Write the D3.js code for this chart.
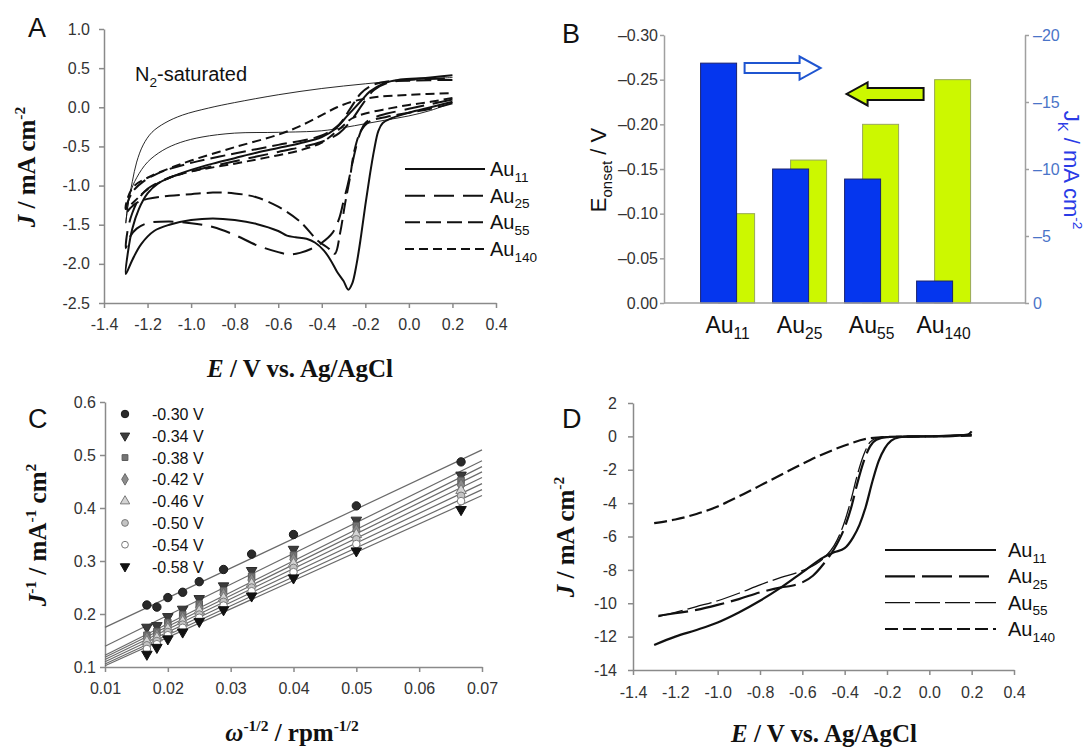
<!DOCTYPE html>
<html>
<head>
<meta charset="utf-8">
<script src="https://cdn.jsdelivr.net/npm/d3@7"></script>
<style>
  body { margin: 0; background: #fff; }
</style>
</head>
<body>
<svg id="fig" width="1088" height="749"></svg>
<script>
// ---------- Panel A: cyclic voltammograms (E / V, J / mA cm^-2), full loops ----------
const cvETicks = [-1.4, -1.2, -1.0, -0.8, -0.6, -0.4, -0.2, 0.0, 0.2, 0.4];
const cvJTicks = [-2.5, -2.0, -1.5, -1.0, -0.5, 0.0, 0.5, 1.0];

const cvN2 = [
  [0.2,0.06],[0.1,-0.04],[0.0,-0.11],[-0.1,-0.16],[-0.2,-0.21],[-0.3,-0.26],[-0.4,-0.3],
  [-0.6,-0.32],[-0.8,-0.33],[-0.95,-0.38],[-1.05,-0.45],[-1.13,-0.55],[-1.2,-0.7],
  [-1.25,-0.9],[-1.28,-1.1],[-1.3,-1.48],
  [-1.29,-1.25],[-1.27,-0.95],[-1.25,-0.7],[-1.22,-0.48],[-1.18,-0.32],[-1.12,-0.2],
  [-1.04,-0.1],[-0.92,-0.01],[-0.8,0.06],[-0.6,0.16],[-0.4,0.24],[-0.2,0.3],[0.0,0.35],[0.2,0.38]
];
const cvAu11 = [
  [0.2,0.07],[0.1,0.0],[0.0,-0.07],[-0.08,-0.14],[-0.12,-0.2],[-0.14,-0.3],[-0.16,-0.55],
  [-0.18,-0.88],[-0.2,-1.25],[-0.22,-1.65],[-0.24,-2.0],[-0.26,-2.25],[-0.278,-2.33],
  [-0.3,-2.22],[-0.33,-2.1],[-0.36,-1.95],[-0.39,-1.83],[-0.43,-1.73],[-0.47,-1.68],
  [-0.52,-1.66],[-0.56,-1.64],[-0.6,-1.58],[-0.7,-1.49],[-0.8,-1.44],[-0.9,-1.42],
  [-1.0,-1.44],[-1.1,-1.5],[-1.17,-1.58],[-1.23,-1.75],[-1.27,-1.95],[-1.3,-2.13],
  [-1.29,-1.85],[-1.27,-1.55],[-1.24,-1.3],[-1.2,-1.1],[-1.15,-0.97],[-1.1,-0.9],
  [-1.0,-0.8],[-0.9,-0.72],[-0.8,-0.65],[-0.7,-0.58],[-0.6,-0.52],[-0.5,-0.46],
  [-0.4,-0.38],[-0.34,-0.28],[-0.28,-0.1],[-0.22,0.08],[-0.18,0.2],[-0.12,0.3],
  [-0.05,0.35],[0.05,0.37],[0.2,0.41]
];
const cvAu25 = [
  [0.2,0.1],[0.1,0.04],[0.0,-0.02],[-0.1,-0.08],[-0.15,-0.12],[-0.2,-0.2],[-0.22,-0.3],
  [-0.24,-0.48],[-0.26,-0.72],[-0.28,-0.98],[-0.3,-1.2],[-0.32,-1.42],[-0.35,-1.6],
  [-0.4,-1.73],[-0.45,-1.81],[-0.5,-1.86],[-0.55,-1.88],[-0.6,-1.85],[-0.7,-1.76],
  [-0.8,-1.63],[-0.9,-1.53],[-1.0,-1.48],[-1.1,-1.46],[-1.2,-1.48],[-1.25,-1.55],
  [-1.28,-1.65],[-1.3,-1.8],
  [-1.29,-1.55],[-1.27,-1.35],[-1.24,-1.17],[-1.2,-1.04],[-1.1,-0.9],[-1.0,-0.82],
  [-0.8,-0.69],[-0.6,-0.57],[-0.4,-0.44],[-0.32,-0.33],[-0.26,-0.15],[-0.21,0.05],
  [-0.16,0.22],[-0.1,0.31],[0.0,0.35],[0.2,0.37]
];
const cvAu55 = [
  [0.2,0.05],[0.1,-0.02],[0.0,-0.07],[-0.1,-0.12],[-0.18,-0.18],[-0.22,-0.3],[-0.25,-0.55],
  [-0.27,-0.89],[-0.293,-1.23],[-0.316,-1.61],[-0.34,-1.87],[-0.37,-1.8],[-0.42,-1.7],
  [-0.5,-1.46],[-0.6,-1.27],[-0.7,-1.15],[-0.8,-1.1],[-0.9,-1.09],[-1.0,-1.11],
  [-1.1,-1.13],[-1.2,-1.17],[-1.25,-1.22],[-1.28,-1.29],[-1.3,-1.35],
  [-1.29,-1.2],[-1.26,-1.05],[-1.22,-0.95],[-1.15,-0.84],[-1.0,-0.71],[-0.8,-0.59],
  [-0.6,-0.48],[-0.4,-0.36],[-0.32,-0.22],[-0.27,-0.02],[-0.22,0.18],[-0.17,0.28],
  [-0.1,0.33],[0.0,0.34],[0.2,0.35]
];
const cvAu140 = [
  [0.2,0.12],[0.1,0.07],[0.0,0.03],[-0.1,-0.02],[-0.2,-0.08],[-0.26,-0.14],[-0.32,-0.28],
  [-0.4,-0.45],[-0.5,-0.55],[-0.65,-0.64],[-0.8,-0.72],[-1.0,-0.82],[-1.1,-0.9],
  [-1.2,-1.05],[-1.26,-1.2],[-1.3,-1.3],
  [-1.29,-1.15],[-1.26,-1.0],[-1.2,-0.9],[-1.1,-0.78],[-1.0,-0.68],[-0.8,-0.51],
  [-0.6,-0.35],[-0.5,-0.24],[-0.4,-0.1],[-0.33,0.0],[-0.25,0.08],[-0.15,0.13],
  [0.0,0.16],[0.2,0.18]
];

// ---------- Panel B: onset potential and kinetic current density ----------
const clusters = ["11", "25", "55", "140"];
const onsetE = [-0.10, -0.16, -0.20, -0.25];
const kineticJ = [-17.9, -10.0, -9.25, -1.64];
const onsetTicks = [0, -0.05, -0.10, -0.15, -0.20, -0.25, -0.30];
const jkTicks = [0, -5, -10, -15, -20];

// ---------- Panel C: Koutecky-Levich data ----------
const rotationRpm = [3600, 3000, 2500, 2000, 1600, 1200, 900, 625, 400, 225];
const klPotentials = ["-0.30 V", "-0.34 V", "-0.38 V", "-0.42 V", "-0.46 V", "-0.50 V", "-0.54 V", "-0.58 V"];
const klInvJ = [
  [0.217, 0.213, 0.231, 0.241, 0.261, 0.284, 0.313, 0.350, 0.404, 0.487],
  [0.175, 0.178, 0.195, 0.209, 0.229, 0.253, 0.282, 0.322, 0.377, 0.462],
  [0.160, 0.167, 0.184, 0.199, 0.219, 0.244, 0.271, 0.311, 0.367, 0.452],
  [0.154, 0.160, 0.178, 0.192, 0.212, 0.237, 0.264, 0.303, 0.358, 0.443],
  [0.148, 0.155, 0.172, 0.186, 0.206, 0.230, 0.257, 0.295, 0.350, 0.433],
  [0.141, 0.149, 0.166, 0.180, 0.199, 0.223, 0.250, 0.287, 0.341, 0.423],
  [0.134, 0.143, 0.160, 0.174, 0.193, 0.216, 0.243, 0.279, 0.332, 0.413],
  [0.124, 0.137, 0.153, 0.166, 0.186, 0.208, 0.234, 0.268, 0.319, 0.397]
];
const klSlope = [5.58, 5.83, 5.93, 5.83, 5.72, 5.60, 5.48, 5.35];
const klIntercept = [0.119, 0.081, 0.063, 0.060, 0.057, 0.054, 0.051, 0.049];
const klXTicks = [0.01, 0.02, 0.03, 0.04, 0.05, 0.06, 0.07];
const klYTicks = [0.1, 0.2, 0.3, 0.4, 0.5, 0.6];

// ---------- Panel D: linear sweep voltammograms ----------
const lsvETicks = [-1.4, -1.2, -1.0, -0.8, -0.6, -0.4, -0.2, 0.0, 0.2, 0.4];
const lsvJTicks = [-14, -12, -10, -8, -6, -4, -2, 0, 2];
const lsvAu11 = [
  [-1.3,-12.5],[-1.2,-12.0],[-1.1,-11.6],[-1.0,-11.15],[-0.9,-10.55],[-0.8,-9.85],
  [-0.7,-9.05],[-0.6,-8.15],[-0.5,-7.25],[-0.45,-6.95],[-0.4,-6.7],[-0.36,-6.05],
  [-0.33,-5.3],[-0.3,-4.2],[-0.27,-2.75],[-0.24,-1.5],[-0.21,-0.7],[-0.18,-0.25],
  [-0.14,-0.05],[-0.1,0.0],[0.0,0.0],[0.1,0.02],[0.18,0.1],[0.2,0.3]
];
const lsvAu25 = [
  [-1.28,-10.75],[-1.2,-10.6],[-1.1,-10.4],[-1.0,-10.1],[-0.9,-9.75],[-0.8,-9.35],
  [-0.7,-9.05],[-0.65,-8.95],[-0.6,-8.75],[-0.55,-8.35],[-0.5,-7.65],[-0.45,-6.75],
  [-0.4,-5.45],[-0.37,-4.3],[-0.34,-2.8],[-0.31,-1.5],[-0.28,-0.6],[-0.25,-0.2],
  [-0.2,-0.05],[0.0,0.0],[0.2,0.1]
];
const lsvAu55 = [
  [-1.28,-10.8],[-1.2,-10.55],[-1.1,-10.2],[-1.0,-9.85],[-0.9,-9.4],[-0.8,-8.9],
  [-0.7,-8.45],[-0.6,-8.05],[-0.5,-7.3],[-0.45,-6.55],[-0.4,-5.1],[-0.37,-3.8],
  [-0.34,-2.3],[-0.31,-1.1],[-0.28,-0.35],[-0.25,-0.1],[-0.2,-0.02],[0.0,0.0],[0.2,0.1]
];
const lsvAu140 = [
  [-1.3,-5.2],[-1.2,-4.98],[-1.1,-4.65],[-1.0,-4.2],[-0.9,-3.6],[-0.8,-2.95],
  [-0.7,-2.3],[-0.6,-1.65],[-0.5,-1.05],[-0.4,-0.55],[-0.3,-0.15],[-0.2,-0.03],
  [0.0,0.0],[0.2,0.05]
];

// ---------- shared drawing helpers ----------
const SANS = "'Liberation Sans', Arial, Helvetica, sans-serif";
const SERIF = "'Liberation Serif', 'Times New Roman', serif";
const AXIS_GREY = "#8a8a8a";
const TEXT_DARK = "#333";

const svg = d3.select("#fig");
svg.append("rect").attr("width", 1088).attr("height", 749).attr("fill", "#fff");

// append tspans with optional sub/superscript and italics
function rich(textSel, parts, size) {
  let shift = 0;
  parts.forEach(p => {
    const ts = textSel.append("tspan").text(p.t);
    let target = 0, fs = size;
    if (p.sup) { target = -0.42 * size; fs = size * 0.62; }
    if (p.sub) { target = 0.28 * size; fs = size * 0.68; }
    ts.attr("dy", target - shift).attr("font-size", fs);
    if (p.it) ts.attr("font-style", "italic");
    shift = target;
  });
  return textSel;
}

function styleAxis(g, color, textColor, fontSize) {
  g.attr("font-family", SANS).attr("font-size", fontSize);
  g.select(".domain").attr("stroke", color).attr("stroke-width", 1.5);
  g.selectAll(".tick line").attr("stroke", color).attr("stroke-width", 1.5);
  g.selectAll(".tick text").attr("fill", textColor);
}

function panelLetter(x, y, s) {
  svg.append("text").attr("x", x).attr("y", y).attr("font-family", SANS)
    .attr("font-size", 27).attr("fill", "#111").text(s);
}

function serifTitle(x, y, rot, parts) {
  const t = svg.append("text")
    .attr("transform", `translate(${x},${y}) rotate(${rot})`)
    .attr("text-anchor", "middle").attr("font-family", SERIF)
    .attr("font-weight", "bold").attr("font-size", 25).attr("fill", "#111");
  rich(t, parts, 25);
  return t;
}

const fmt1 = d => d.toFixed(1);

// ===================== Panel A =====================
{
  const x = d3.scaleLinear().domain([-1.4, 0.4]).range([104, 496]);
  const y = d3.scaleLinear().domain([-2.5, 1.0]).range([303, 29]);

  const gx = svg.append("g").attr("transform", "translate(0,303)")
    .call(d3.axisBottom(x).tickValues(cvETicks).tickFormat(fmt1)
      .tickSize(5).tickSizeOuter(0).tickPadding(11));
  styleAxis(gx, AXIS_GREY, TEXT_DARK, 16);
  const gy = svg.append("g").attr("transform", "translate(104,0)")
    .call(d3.axisLeft(y).tickValues(cvJTicks).tickFormat(fmt1)
      .tickSize(5).tickSizeOuter(0).tickPadding(9));
  styleAxis(gy, AXIS_GREY, TEXT_DARK, 16);

  const line = d3.line().x(d => x(d[0])).y(d => y(d[1]))
    .curve(d3.curveCatmullRom.alpha(0.5));

  svg.append("path").attr("d", line(cvN2)).attr("fill", "none")
    .attr("stroke", "#111").attr("stroke-width", 0.9);

  const series = [
    { name: "11", data: cvAu11, dash: null },
    { name: "25", data: cvAu25, dash: "20,9" },
    { name: "55", data: cvAu55, dash: "15,6" },
    { name: "140", data: cvAu140, dash: "9,5" }
  ];
  series.forEach(s => {
    svg.append("path").attr("d", line(s.data)).attr("fill", "none")
      .attr("stroke", "#111").attr("stroke-width", 2)
      .attr("stroke-dasharray", s.dash);
  });

  // legend
  const legY = d3.scalePoint().domain(series.map(s => s.name)).range([169, 249]);
  series.forEach(s => {
    const yy = legY(s.name);
    svg.append("line").attr("x1", 405).attr("x2", 485).attr("y1", yy).attr("y2", yy)
      .attr("stroke", "#111").attr("stroke-width", 2).attr("stroke-dasharray", s.dash);
    const t = svg.append("text").attr("x", 490).attr("y", yy + 7)
      .attr("font-family", SANS).attr("font-size", 20).attr("fill", "#111");
    rich(t, [{ t: "Au" }, { t: s.name, sub: true }], 20);
  });

  const n2 = svg.append("text").attr("x", 135).attr("y", 81)
    .attr("font-family", SANS).attr("font-size", 20).attr("fill", "#111");
  rich(n2, [{ t: "N" }, { t: "2", sub: true }, { t: "-saturated" }], 20);

  panelLetter(28, 37, "A");
  serifTitle(35, 167, -90, [{ t: "J", it: true }, { t: " / mA cm" }, { t: "-2", sup: true }]);
  serifTitle(300, 377, 0, [{ t: "E", it: true }, { t: " / V vs. Ag/AgCl" }]);
}

// ===================== Panel B =====================
{
  const x = d3.scaleBand().domain(clusters).range([664, 1025])
    .paddingInner(0).paddingOuter(0.507).align(0.378);
  const yL = d3.scaleLinear().domain([0, -0.30]).range([303, 35]);
  const yR = d3.scaleLinear().domain([0, -20]).range([303, 35]);
  const barW = x.bandwidth() / 2;

  // green: onset potential (behind), blue: kinetic current (front)
  svg.append("g").selectAll("rect").data(clusters).join("rect")
    .attr("x", (d) => x(d) + x.bandwidth() * 0.375)
    .attr("y", (d, i) => yL(onsetE[i]))
    .attr("width", barW)
    .attr("height", (d, i) => yL(0) - yL(onsetE[i]))
    .attr("fill", "#ccf800").attr("stroke", "#98a85a").attr("stroke-width", 1);
  svg.append("g").selectAll("rect").data(clusters).join("rect")
    .attr("x", (d) => x(d) + x.bandwidth() * 0.125)
    .attr("y", (d, i) => yR(kineticJ[i]))
    .attr("width", barW)
    .attr("height", (d, i) => yR(0) - yR(kineticJ[i]))
    .attr("fill", "#0536ee").attr("stroke", "#1a2270").attr("stroke-width", 1);

  const gl = svg.append("g").attr("transform", "translate(664,0)")
    .call(d3.axisLeft(yL).tickValues(onsetTicks)
      .tickFormat(d => d === 0 ? "0.00" : "\u2013" + Math.abs(d).toFixed(2))
      .tickSize(4).tickSizeOuter(0).tickPadding(2));
  styleAxis(gl, "#a0a0a0", TEXT_DARK, 16);
  const gr = svg.append("g").attr("transform", "translate(1025,0)")
    .call(d3.axisRight(yR).tickValues(jkTicks)
      .tickFormat(d => d === 0 ? "0" : "\u2013" + Math.abs(d))
      .tickSize(4).tickSizeOuter(0).tickPadding(4));
  styleAxis(gr, "#a0a0a0", "#4a74c8", 16);
  svg.append("line").attr("x1", 664).attr("x2", 1025).attr("y1", 303).attr("y2", 303)
    .attr("stroke", "#a0a0a0").attr("stroke-width", 1.5);

  clusters.forEach(c => {
    const t = svg.append("text").attr("x", x(c) + x.bandwidth() * 0.5).attr("y", 333)
      .attr("text-anchor", "middle").attr("font-family", SANS)
      .attr("font-size", 23).attr("fill", "#111");
    rich(t, [{ t: "Au" }, { t: c, sub: true }], 23);
  });

  // direction arrows: white → points to the right axis, green ← to the left axis
  const cx = c => x(c) + x.bandwidth() * 0.5;
  function arrow(x0, xh, x1, yc, shaftH, headH, fill, stroke) {
    const pts = [[x0, yc - shaftH], [xh, yc - shaftH], [xh, yc - headH], [x1, yc],
      [xh, yc + headH], [xh, yc + shaftH], [x0, yc + shaftH]];
    svg.append("polygon").attr("points", pts.map(p => p.join(",")).join(" "))
      .attr("fill", fill).attr("stroke", stroke).attr("stroke-width", 2)
      .attr("stroke-linejoin", "miter");
  }
  arrow(cx("11") + 17, cx("25") + 0, cx("25") + 21, yL(-0.263), 5, 11.5, "#fff", "#1f55d0");
  arrow(cx("140") - 20, cx("55") - 4, cx("55") - 25, yL(-0.234), 6, 11.5, "#ccf800", "#111");

  panelLetter(562, 43, "B");
  const tl = svg.append("text").attr("transform", "translate(606,170) rotate(-90)")
    .attr("text-anchor", "middle").attr("font-family", SANS)
    .attr("font-size", 22).attr("fill", "#111");
  rich(tl, [{ t: "E" }, { t: "onset", sub: true }, { t: " / V" }], 22);
  const tr = svg.append("text").attr("transform", "translate(1064,170) rotate(90)")
    .attr("text-anchor", "middle").attr("font-family", SANS)
    .attr("font-size", 22).attr("fill", "#2a3be6");
  rich(tr, [{ t: "J" }, { t: "K", sub: true }, { t: " / mA cm" }, { t: "-2", sup: true }], 22);
}

// ===================== Panel C =====================
{
  const x = d3.scaleLinear().domain([0.01, 0.07]).range([105, 482]);
  const y = d3.scaleLinear().domain([0.1, 0.6]).range([667, 402]);

  const gx = svg.append("g").attr("transform", "translate(0,667)")
    .call(d3.axisBottom(x).tickValues(klXTicks).tickFormat(d => d.toFixed(2))
      .tickSize(5).tickSizeOuter(0).tickPadding(11));
  styleAxis(gx, AXIS_GREY, TEXT_DARK, 16);
  const gy = svg.append("g").attr("transform", "translate(105,0)")
    .call(d3.axisLeft(y).tickValues(klYTicks).tickFormat(fmt1)
      .tickSize(5).tickSizeOuter(0).tickPadding(4));
  styleAxis(gy, AXIS_GREY, TEXT_DARK, 16);

  const omega = rotationRpm.map(r => 1 / Math.sqrt(r));

  // linear fits
  klPotentials.forEach((p, i) => {
    const f = v => klIntercept[i] + klSlope[i] * v;
    svg.append("line")
      .attr("x1", x(0.01)).attr("y1", y(f(0.01)))
      .attr("x2", x(0.07)).attr("y2", y(f(0.07)))
      .attr("stroke", "#6a6a6a").attr("stroke-width", 1.2);
  });

  const markers = [
    { type: d3.symbolCircle, rot: 0, fill: "#2a2a2a", stroke: "#1a1a1a", size: 55 },
    { type: d3.symbolTriangle, rot: 180, fill: "#3c3c3c", stroke: "#2a2a2a", size: 48 },
    { type: d3.symbolSquare, rot: 0, fill: "#747474", stroke: "#5a5a5a", size: 42 },
    { type: d3.symbolDiamond, rot: 0, fill: "#8c8c8c", stroke: "#6a6a6a", size: 48 },
    { type: d3.symbolTriangle, rot: 0, fill: "#d4d4d4", stroke: "#7a7a7a", size: 48 },
    { type: d3.symbolCircle, rot: 0, fill: "#c4c4c4", stroke: "#7a7a7a", size: 45 },
    { type: d3.symbolCircle, rot: 0, fill: "#ffffff", stroke: "#7a7a7a", size: 45 },
    { type: d3.symbolTriangle, rot: 180, fill: "#111111", stroke: "#111111", size: 48 }
  ];

  klPotentials.forEach((p, i) => {
    const m = markers[i];
    const sym = d3.symbol().type(m.type).size(m.size);
    svg.append("g").selectAll("path").data(klInvJ[i]).join("path")
      .attr("d", sym)
      .attr("transform", (d, k) => `translate(${x(omega[k])},${y(d)}) rotate(${m.rot})`)
      .attr("fill", m.fill).attr("stroke", m.stroke).attr("stroke-width", 1);
  });

  // legend
  const legY = d3.scalePoint().domain(klPotentials).range([414, 566.5]);
  klPotentials.forEach((p, i) => {
    const m = markers[i];
    const yy = legY(p);
    svg.append("path").attr("d", d3.symbol().type(m.type).size(m.size * 0.8))
      .attr("transform", `translate(125,${yy}) rotate(${m.rot})`)
      .attr("fill", m.fill).attr("stroke", m.stroke).attr("stroke-width", 1);
    svg.append("text").attr("x", 152).attr("y", yy + 6).attr("font-family", SANS)
      .attr("font-size", 16).attr("fill", "#111").text(p);
  });

  panelLetter(28, 428, "C");
  serifTitle(46, 535, -90, [{ t: "J", it: true }, { t: "-1", sup: true }, { t: " / mA" },
    { t: "-1", sup: true }, { t: " cm" }, { t: "2", sup: true }]);
  serifTitle(292, 741, 0, [{ t: "\u03c9", it: true }, { t: "-1/2", sup: true },
    { t: " / rpm" }, { t: "-1/2", sup: true }]);
}

// ===================== Panel D =====================
{
  const x = d3.scaleLinear().domain([-1.4, 0.4]).range([633, 1014]);
  const y = d3.scaleLinear().domain([-14, 2]).range([670, 403]);

  const gx = svg.append("g").attr("transform", "translate(0,670)")
    .call(d3.axisBottom(x).tickValues(lsvETicks).tickFormat(fmt1)
      .tickSize(5).tickSizeOuter(0).tickPadding(12));
  styleAxis(gx, AXIS_GREY, TEXT_DARK, 16);
  const gy = svg.append("g").attr("transform", "translate(633,0)")
    .call(d3.axisLeft(y).tickValues(lsvJTicks).tickFormat(d => d.toFixed(0))
      .tickSize(5).tickSizeOuter(0).tickPadding(11));
  styleAxis(gy, AXIS_GREY, TEXT_DARK, 16);

  const line = d3.line().x(d => x(d[0])).y(d => y(d[1])).curve(d3.curveMonotoneX);
  const series = [
    { name: "11", data: lsvAu11, dash: null, w: 2.2 },
    { name: "25", data: lsvAu25, dash: "30,7", w: 2.2 },
    { name: "55", data: lsvAu55, dash: "25,5", w: 1.3 },
    { name: "140", data: lsvAu140, dash: "13,5", w: 2.2 }
  ];
  series.forEach(s => {
    svg.append("path").attr("d", line(s.data)).attr("fill", "none")
      .attr("stroke", "#111").attr("stroke-width", s.w)
      .attr("stroke-dasharray", s.dash);
  });

  const legY = d3.scalePoint().domain(series.map(s => s.name)).range([550, 629]);
  series.forEach(s => {
    const yy = legY(s.name);
    svg.append("line").attr("x1", 885).attr("x2", 996).attr("y1", yy).attr("y2", yy)
      .attr("stroke", "#111").attr("stroke-width", s.w).attr("stroke-dasharray", s.dash);
    const t = svg.append("text").attr("x", 1008).attr("y", yy + 7)
      .attr("font-family", SANS).attr("font-size", 20).attr("fill", "#111");
    rich(t, [{ t: "Au" }, { t: s.name, sub: true }], 20);
  });

  panelLetter(562, 428, "D");
  serifTitle(574, 537, -90, [{ t: "J", it: true }, { t: " / mA cm" }, { t: "-2", sup: true }]);
  serifTitle(824, 742, 0, [{ t: "E", it: true }, { t: " / V vs. Ag/AgCl" }]);
}
</script>
</body>
</html>
